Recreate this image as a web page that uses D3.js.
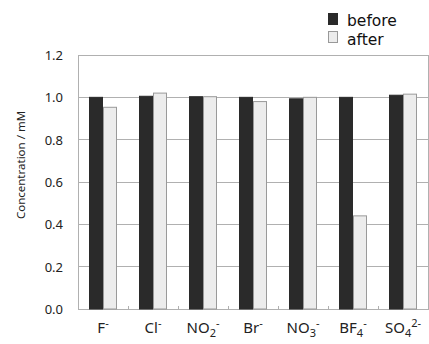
<!DOCTYPE html>
<html><head><meta charset="utf-8">
<script src="https://cdn.jsdelivr.net/npm/d3@7"></script>
<style>body{margin:0;background:#fff}svg{display:block}</style>
</head><body>
<script>
const categories = ["F-","Cl-","NO2-","Br-","NO3-","BF4-","SO42-"];
const labelBase = ["F","Cl","NO","Br","NO","BF","SO"];
const labelSub  = ["","","2","","3","4","4"];
const labelSup  = ["-","-","-","-","-","-","2-"];
const seriesNames = ["before","after"];
const before = [1.00,1.005,1.003,1.00,0.993,1.00,1.01];
const after  = [0.953,1.02,1.003,0.98,1.00,0.44,1.015];
const yTicks = [0,0.2,0.4,0.6,0.8,1.0,1.2];
const yTitle = "Concentration / mM";

const W=429,H=344;
const L=78,R=428,T=55,B=309;
const svg=d3.select("body").append("svg").attr("width",W).attr("height",H);
const font="'Noto Sans', 'DejaVu Sans', sans-serif";

const x=d3.scaleBand().domain(categories).range([L,R]).paddingInner(0.44).paddingOuter(0.22);
const xs=d3.scaleBand().domain(seriesNames).range([0,x.bandwidth()]);
const y=d3.scaleLinear().domain([0,1.2]).range([B,T]);
const colors={before:"#2a2a2a",after:"#ececec"};
const strokes={before:"#2a2a2a",after:"#999"};

// gridlines
svg.append("g").selectAll("line").data(yTicks).join("line")
  .attr("x1",L).attr("x2",R).attr("y1",d=>y(d)).attr("y2",d=>y(d))
  .attr("stroke","#b0b0b0").attr("stroke-width",1).attr("shape-rendering","crispEdges");
// border
svg.append("rect").attr("x",L).attr("y",T).attr("width",R-L).attr("height",B-T)
  .attr("fill","none").attr("stroke","#b0b0b0").attr("shape-rendering","crispEdges");

// bars
const rows=categories.map((c,i)=>({c,before:before[i],after:after[i]}));
const g=svg.append("g").selectAll("g").data(rows).join("g")
  .attr("transform",d=>`translate(${x(d.c)},0)`);
g.selectAll("rect").data(d=>seriesNames.map(k=>({k,v:d[k]}))).join("rect")
  .attr("x",d=>xs(d.k)+0.5).attr("width",xs.bandwidth()-1)
  .attr("y",d=>y(d.v)).attr("height",d=>B-y(d.v))
  .attr("fill",d=>colors[d.k]).attr("stroke",d=>strokes[d.k]).attr("stroke-width",1);

// bottom axis ticks
const bounds=d3.range(categories.length+1).map(i=>L+i*x.step());
svg.append("g").selectAll("line").data(bounds).join("line")
  .attr("x1",d=>d).attr("x2",d=>d).attr("y1",B).attr("y2",B-3)
  .attr("stroke","#b0b0b0").attr("shape-rendering","crispEdges");

// y tick labels
svg.append("g").selectAll("text").data(yTicks).join("text")
  .attr("x",63).attr("y",d=>y(d)+5).attr("text-anchor","end")
  .attr("font-family",font).attr("font-size",13).attr("fill","#222")
  .text(d=>d.toFixed(1));

// y title
svg.append("text").attr("transform",`translate(25,165) rotate(-90)`)
  .attr("text-anchor","middle").attr("font-family",font).attr("font-size",11.5).attr("fill","#222")
  .text(yTitle);

// x labels
categories.forEach((c,i)=>{
  const t=svg.append("text").attr("x",x(c)+x.bandwidth()/2).attr("y",333)
    .attr("text-anchor","middle").attr("font-family",font).attr("font-size",15).attr("fill","#222");
  t.append("tspan").text(labelBase[i]);
  let dy=0;
  if(labelSub[i]){t.append("tspan").attr("dy",4).attr("font-size",11).text(labelSub[i]);dy=4;}
  t.append("tspan").attr("dy",-6-dy).attr("font-size",11).text(labelSup[i]);
});

// legend
const leg=svg.append("g");
seriesNames.forEach((k,i)=>{
  leg.append("rect").attr("x",328.5).attr("y",13.5+i*18).attr("width",9).attr("height",11)
    .attr("fill",colors[k]).attr("stroke",strokes[k]);
  leg.append("text").attr("x",347).attr("y",26+i*19).attr("font-family","'DejaVu Sans', sans-serif").attr("font-size",15.5)
    .attr("fill","#111").text(k);
});
</script>
</body></html>
